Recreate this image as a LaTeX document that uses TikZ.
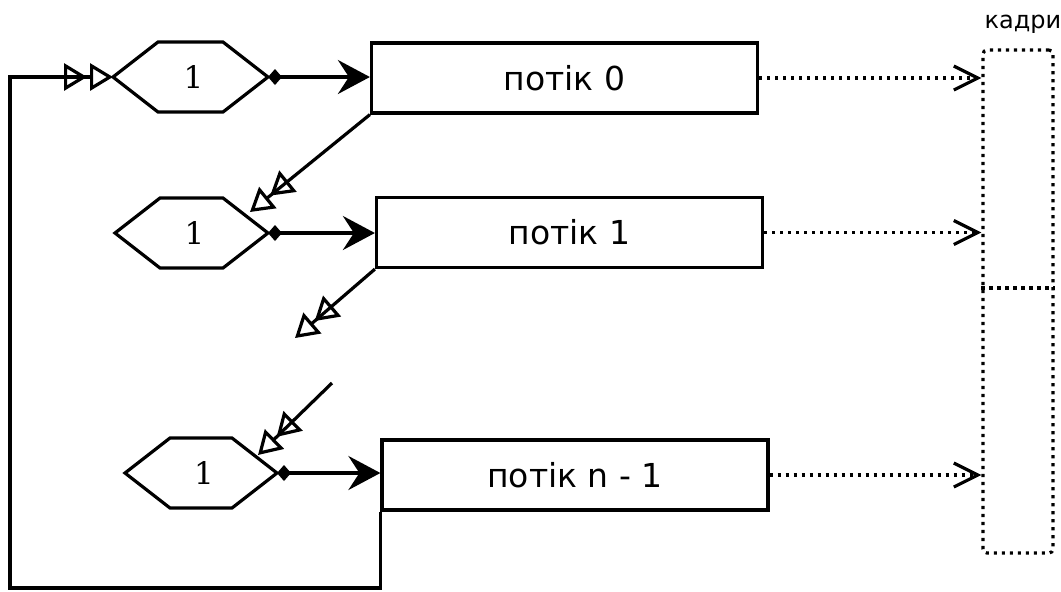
\documentclass[tikz,border=0pt]{standalone}
\usepackage{fontspec}
\setsansfont{DejaVu Sans}
\newfontfamily\digitfont{DejaVu Serif}
\usetikzlibrary{arrows.meta}

\tikzset{
  stream/.style={draw, line width=1.6pt, minimum width=193pt, minimum height=35pt,
    inner sep=0pt, font=\sffamily\fontsize{16.5}{18}\selectfont},
  counter/.style={inner sep=0pt, font=\digitfont\fontsize{15.5}{18}\selectfont},
  frames/.style={draw, dash pattern=on 1.6pt off 2.4pt, line width=1.6pt,
    rounded corners=2pt, minimum width=35pt, minimum height=251.5pt, inner sep=0pt},
  pass/.style={line width=1.6pt, -{Triangle[open,length=11.5pt,width=13.5pt,sep=1.5pt]Triangle[open,length=11.5pt,width=13.5pt]}},
  begin/.style={line width=1.6pt, {Diamond[length=7pt,width=8pt]}-{Stealth[length=16pt,width=17pt,inset=5.5pt]}},
  emit/.style={line width=1.6pt, dash pattern=on 1.6pt off 2.4pt, -{Straight Barb[length=12pt,width=12pt]}}
}

\begin{document}
\begin{tikzpicture}[x=0.5pt,y=-0.5pt]
      \useasboundingbox (0,0) rectangle (1061,591);

      % hexagons
      \foreach \n/\l/\r/\y in {0/113/268/77,1/115/268/233,2/125/277/473} {
        \draw[line width=1.6pt, line join=miter] (\l,\y) -- (\l+45,\y-35) -- (\r-45,\y-35) -- (\r,\y) -- (\r-45,\y+35) -- (\l+45,\y+35) -- cycle;
        \coordinate (hl\n) at (\l,\y);
        \coordinate (hr\n) at (\r,\y);
        \node[counter](h\n) at ({(\l+\r)/2+3},\y){1};
      }

      \node[stream](p0) at (564.5, 78.0){потік 0};
      \node[stream](p1) at (569.5,232.5){потік 1};
      \node[stream](p2) at (575.0,475.0){потік n - 1};

      \node[frames](fr) at (1018,301.5){};
      \draw[dash pattern=on 1.6pt off 2.4pt, line width=1.6pt] (fr.west |- 0,288) -- (fr.east |- 0,288);
      \node[font=\sffamily\fontsize{12}{14}\selectfont](lab) at (1023,24){кадри};

      \draw[begin] (hr0) -- (hr0 -| p0.west);
      \draw[begin] (hr1) -- (hr1 -| p1.west);
      \draw[begin] (hr2) -- (hr2 -| p2.west);

      \draw[emit] (p0.east) -- (p0.east -| fr.west);
      \draw[emit] (p1.east) -- (p1.east -| fr.west);
      \draw[emit] (p2.east) -- (p2.east -| fr.west);

      \coordinate (d0) at (250,212);
      \coordinate (d1) at (295,338);
      \coordinate (d2) at (332,383);
      \coordinate (d3) at (258,455);
      \draw[pass] (p0.south west) -- (d0);
      \draw[pass] (p1.south west) -- (d1);
      \draw[pass] (d2) -- (d3);

      \coordinate (bl) at (10,588);
      \draw[pass] (p2.south west) |- (bl) |- (hl0);
    \end{tikzpicture}
\end{document}
